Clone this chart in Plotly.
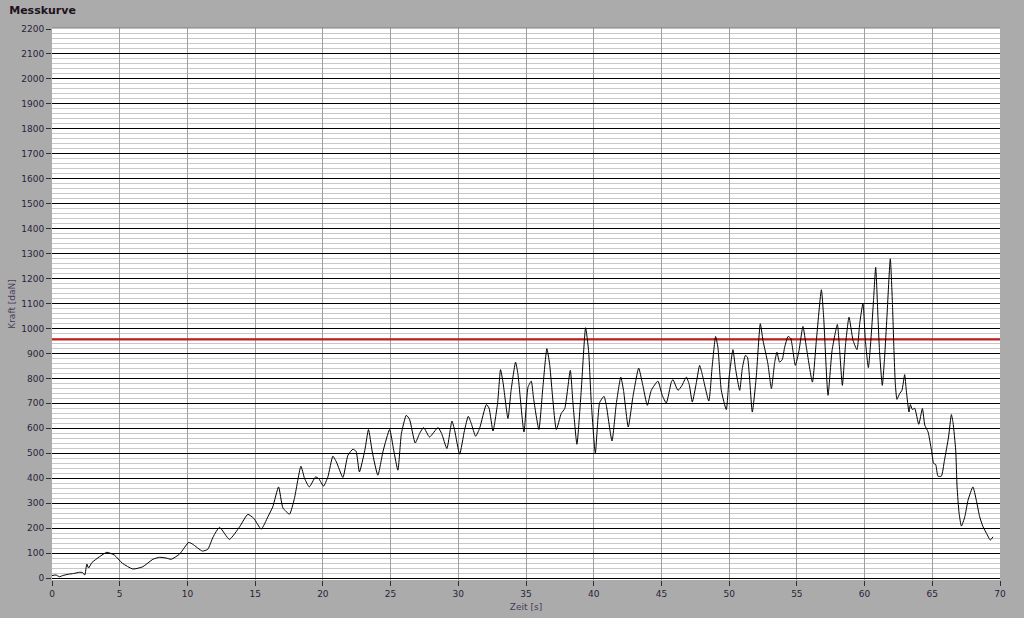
import plotly.graph_objects as go

# ---- data ----
zeit_s = [0, 0.3, 0.55, 0.8, 1.2, 1.6, 2.03, 2.25, 2.42, 2.57, 2.7, 2.95, 3.5, 4.05, 4.6, 5.2, 5.97, 6.7,
          7.45, 7.94, 8.43, 8.8, 9.42, 10.1, 10.4, 11.1, 11.5, 11.9, 12.37, 13.1, 13.85, 14.46, 14.9, 15.45,
          15.94, 16.3, 16.73, 17.05, 17.54, 17.9, 18.38, 18.65, 19.0, 19.46, 19.7, 20.05, 20.37, 20.74, 21.0,
          21.48, 21.85, 22.22, 22.45, 22.7, 23.1, 23.37, 23.65, 24.06, 24.45, 24.93, 25.23, 25.54, 25.8, 26.16,
          26.4, 26.82, 27.14, 27.44, 27.88, 28.5, 28.77, 29.16, 29.53, 29.73, 30.1, 30.46, 30.74, 30.96, 31.28,
          31.57, 32.07, 32.27, 32.56, 32.9, 33.12, 33.3, 33.67, 33.9, 34.23, 34.4, 34.85, 35.15, 35.39, 35.56,
          35.95, 36.24, 36.54, 36.74, 37.24, 37.6, 37.86, 38.27, 38.47, 38.76, 39.08, 39.4, 39.62, 39.82, 40.12,
          40.44, 40.76, 40.93, 41.35, 41.67, 42.0, 42.2, 42.55, 42.9, 43.32, 43.6, 43.96, 44.25, 44.74, 45.06,
          45.36, 45.73, 45.85, 46.22, 46.5, 46.84, 47.05, 47.28, 47.58, 47.82, 48.0, 48.5, 48.75, 49.0, 49.17,
          49.42, 49.79, 50.0, 50.28, 50.47, 50.78, 50.97, 51.2, 51.35, 51.71, 52.0, 52.3, 52.5, 52.86, 53.12,
          53.36, 53.53, 53.72, 53.92, 54.1, 54.35, 54.55, 54.89, 55.16, 55.45, 55.7, 56.15, 56.44, 56.81, 56.98,
          57.3, 57.6, 57.99, 58.16, 58.36, 58.6, 58.85, 59.15, 59.44, 59.64, 59.88, 60.06, 60.28, 60.5, 60.66,
          60.82, 60.99, 61.1, 61.31, 61.48, 61.65, 61.9, 62.05, 62.17, 62.27, 62.39, 62.59, 62.76, 62.96, 63.08,
          63.28, 63.38, 63.53, 63.7, 64.0, 64.27, 64.45, 64.69, 64.94, 65.1, 65.25, 65.42, 65.67, 65.9, 66.2,
          66.41, 66.53, 66.73, 66.83, 66.98, 67.15, 67.4, 67.64, 68.0, 68.25, 68.5, 68.75, 69.0, 69.29, 69.48]

kraft_daN = [10, 12, 5, 10, 15, 18, 23, 22, 12, 56, 40, 62, 85, 103, 92, 59, 36, 45,
             75, 83, 80, 75, 96, 143, 135, 108, 115, 165, 203, 155, 205, 255, 239, 196,
             245, 285, 365, 281, 256, 319, 448, 399, 365, 405, 398, 368, 405, 488, 465,
             403, 492, 516, 508, 425, 512, 595, 505, 412, 509, 595, 512, 432, 579, 652,
             636, 541, 579, 603, 565, 603, 579, 519, 629, 592, 496, 592, 648, 619, 568,
             599, 695, 681, 589, 699, 835, 785, 639, 752, 865, 819, 585, 765, 789, 719,
             595, 760, 919, 859, 595, 659, 679, 832, 699, 536, 752, 1003, 912, 703, 501,
             703, 728, 692, 549, 699, 805, 752, 605, 728, 841, 779, 692, 752, 789, 732,
             701, 785, 795, 752, 770, 805, 776, 705, 783, 852, 819, 709, 849, 968, 925,
             752, 675, 805, 915, 839, 752, 839, 892, 885, 665, 805, 1019, 952, 859, 759,
             863, 905, 865, 875, 925, 968, 960, 852, 912, 1008, 925, 785, 952, 1155, 1045,
             732, 912, 1016, 912, 772, 939, 1045, 952, 915, 1019, 1101, 952, 843, 979, 1112,
             1245, 1045, 912, 772, 885, 1045, 1279, 1112, 912, 779, 716, 739, 752, 815, 752,
             665, 695, 675, 680, 616, 679, 612, 585, 512, 459, 455, 408, 408, 472, 565,
             655, 623, 512, 365, 259, 208, 245, 312, 365, 312, 245, 205, 179, 152, 165]

grenzwert_daN = 956
x_range = [0, 70]
y_ticks = list(range(0, 2201, 100))
x_ticks = list(range(0, 71, 5))

txt = "#2a1f3a"
fig = go.Figure()
fig.add_trace(go.Scatter(x=x_range, y=[grenzwert_daN, grenzwert_daN], mode="lines",
                         line=dict(color="#c42020", width=2.2), hoverinfo="skip"))
fig.add_trace(go.Scatter(x=zeit_s, y=kraft_daN, mode="lines",
                         line=dict(color="black", width=1, shape="spline", smoothing=0.5)))

fig.update_layout(
    width=1024, height=618, autosize=False,
    paper_bgcolor="#ababab", plot_bgcolor="white",
    margin=dict(l=52, r=24, t=28, b=38, autoexpand=False),
    showlegend=False,
    font=dict(family="DejaVu Sans", size=9, color=txt),
    title=dict(text="<b>Messkurve</b>", x=0.009, xanchor="left", y=0.989, yanchor="top",
               font=dict(family="DejaVu Sans", size=11, color="#201020")),
    xaxis=dict(range=x_range, tickvals=x_ticks, ticks="outside", ticklen=5, tickcolor="#303030",
               showgrid=True, gridcolor="#a0a0a0", gridwidth=1, zeroline=False, showline=False,
               automargin=False,
               title=dict(text="Zeit [s]", standoff=5, font=dict(size=9, color="#4a3a5a"))),
    yaxis=dict(range=[-8, 2204], tickvals=y_ticks, ticks="outside", ticklen=5, tickcolor="#303030",
               showgrid=True, gridcolor="black", gridwidth=1, zeroline=False, showline=False,
               automargin=False,
               minor=dict(dtick=20, showgrid=True, gridcolor="#c8c8c8", gridwidth=1, ticks=""),
               title=dict(text="Kraft [daN]", standoff=4, font=dict(size=9, color="#4a3a5a"))),
)
fig.add_shape(type="line", xref="paper", yref="paper", x0=0, x1=1, y0=1, y1=1,
              line=dict(color="#808080", width=1))
fig.write_html("out.html",
               config={"displayModeBar": False, "responsive": False},
               post_script="document.body.style.margin='0px';document.body.style.overflow='hidden';")
